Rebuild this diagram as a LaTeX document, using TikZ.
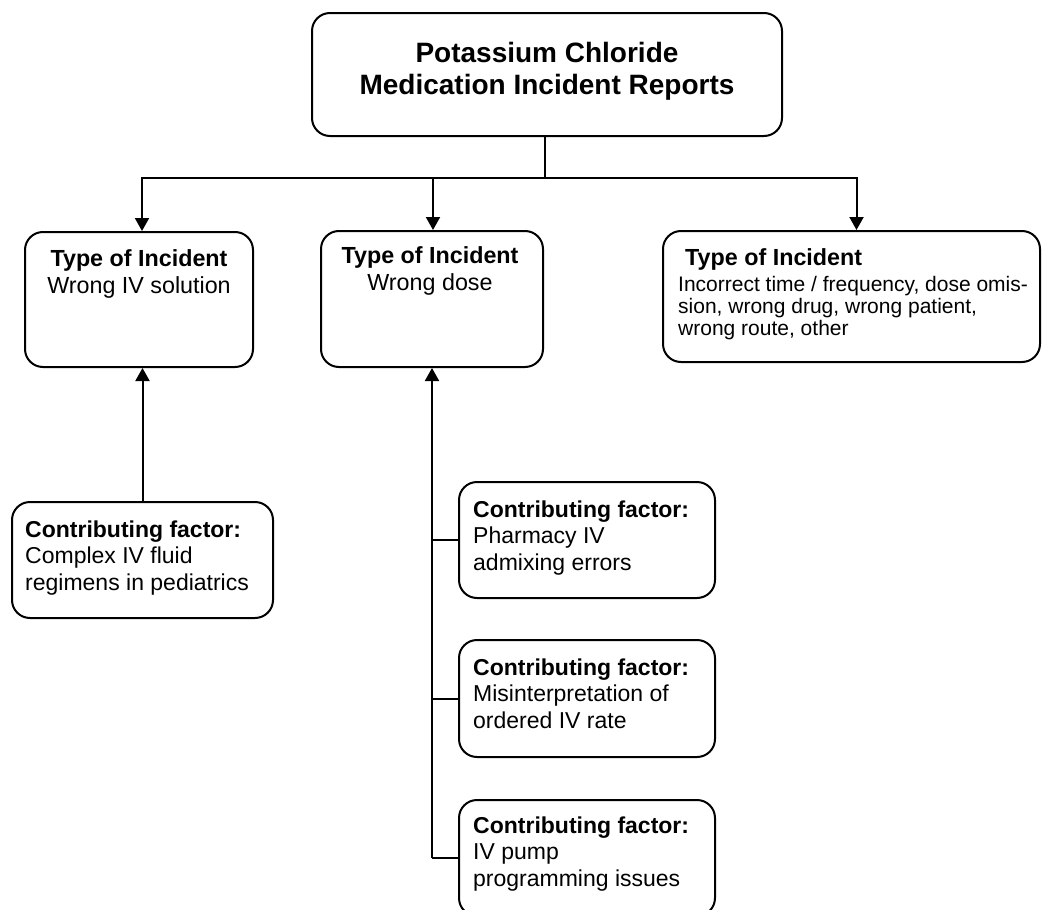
\documentclass[tikz,border=0pt]{standalone}
\usepackage{fontspec}
\setmainfont{Liberation Sans}
\usetikzlibrary{arrows.meta}
\begin{document}
\begin{tikzpicture}[x=1pt,y=-1pt,
  box/.style={draw=black,line width=2pt,rounded corners=18pt,fill=white,inner sep=0pt},
  conn/.style={draw=black,line width=2pt},
  arr/.style={conn,-{Triangle[width=14pt,length=13pt]}},
  titletext/.style={font=\fontsize{28}{32}\selectfont\bfseries,align=center,anchor=base,inner sep=0pt},
  typetext/.style={font=\fontsize{23.3}{26.5}\selectfont,align=center,anchor=base,inner sep=0pt},
  righttext/.style={font=\fontsize{21}{22}\selectfont,align=left,anchor=base west,inner sep=0pt},
  contribtext/.style={font=\fontsize{23}{26.5}\selectfont,align=left,anchor=base west,inner sep=0pt}
]
\useasboundingbox[fill=white] (0,0) rectangle (1042,910);
\begin{scope}
\clip (0,0) rectangle (1042,910);
% boxes
\node[box,minimum width=470pt,minimum height=123pt] (top) at (547,74.5) {};
\node[box,minimum width=228pt,minimum height=135pt] (t1) at (139,299.5) {};
\node[box,minimum width=222pt,minimum height=136pt] (t2) at (432,299) {};
\node[box,minimum width=377pt,minimum height=131pt] (t3) at (851.5,296.5) {};
\node[box,minimum width=261pt,minimum height=116pt] (c1) at (142.5,560) {};
\node[box,minimum width=256pt,minimum height=116pt] (c2) at (587,540) {};
\node[box,minimum width=256pt,minimum height=117pt] (c3) at (587,698.5) {};
\node[box,minimum width=256pt,minimum height=116pt] (c4) at (587,858) {};
% texts (base anchor = baseline of the last line)
\node[titletext] (toptext) at (547,94) {Potassium Chloride\\Medication Incident Reports};
\node[typetext] (t1text) at (139,293) {\textbf{Type of Incident}\\Wrong IV solution};
\node[typetext] (t2text) at (430,290) {\textbf{Type of Incident}\\Wrong dose};
\node[typetext,anchor=base west] (t3title) at (685,265) {\textbf{Type of Incident}};
\node[righttext] (t3text) at (678,335) {Incorrect time / frequency, dose omis-\\sion, wrong drug, wrong patient,\\wrong route, other};
\node[contribtext] (c1text) at (25,590) {\textbf{Contributing factor:}\\Complex IV fluid\\regimens in pediatrics};
\node[contribtext] (c2text) at (473,570) {\textbf{Contributing factor:}\\Pharmacy IV\\admixing errors};
\node[contribtext] (c3text) at (473,728) {\textbf{Contributing factor:}\\Misinterpretation of\\ordered IV rate};
\node[contribtext] (c4text) at (473,886) {\textbf{Contributing factor:}\\IV pump\\programming issues};
% connectors
\coordinate (hub) at ([xshift=-2pt]top.south |- 0,178);
\draw[conn] ([xshift=-2pt]top.south) -- (hub);
\draw[arr] (hub) -| ([xshift=3pt]t1.north);
\draw[arr] (hub) -| ([xshift=1pt]t2.north);
\draw[arr] (hub) -| ([xshift=5pt]t3.north);
\draw[arr] (c1.north) -- (c1.north |- t1.south);
\coordinate (spinebot) at (c4.west -| t2.south);
\draw[arr] (spinebot) -- (t2.south);
\draw[conn] (c2.west) -- (c2.west -| t2.south);
\draw[conn] (c3.west) -- (c3.west -| t2.south);
\draw[conn] (c4.west) -- (spinebot);
\end{scope}
\end{tikzpicture}
\end{document}
